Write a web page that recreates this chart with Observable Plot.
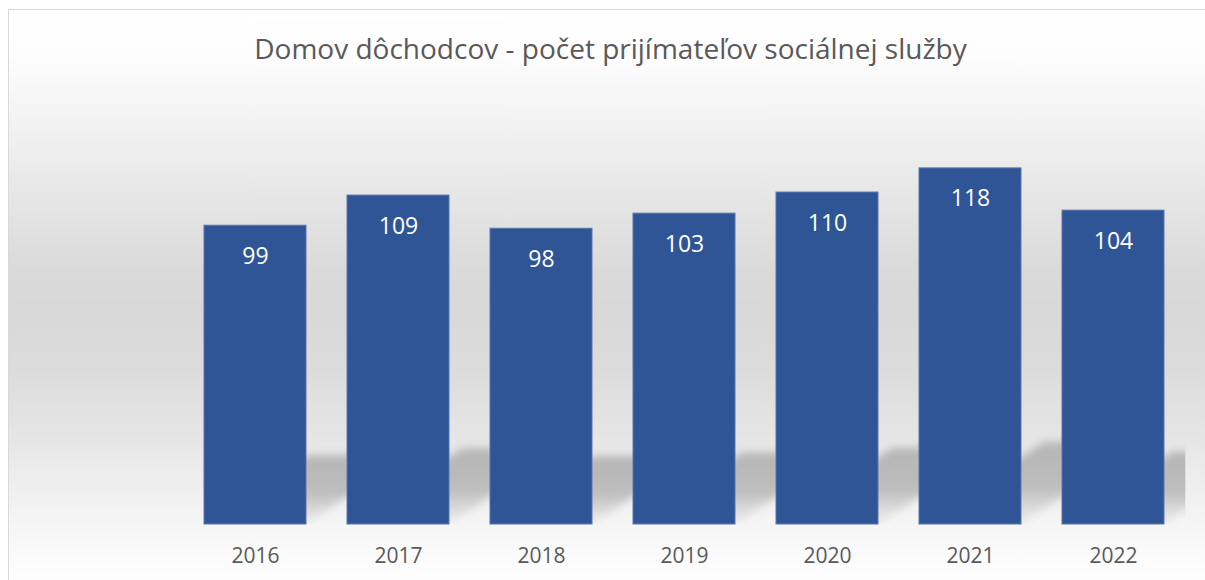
<!DOCTYPE html>
<html>
<head>
<meta charset="utf-8">
<script src="https://cdn.jsdelivr.net/npm/d3@7"></script>
<script src="https://cdn.jsdelivr.net/npm/@observablehq/plot@0.6"></script>
<style>
  body { margin: 0; background: #ffffff; overflow: hidden; }
  #frame {
    position: absolute; left: 8px; top: 9px; width: 1220px; height: 600px;
    border: 1.5px solid #d9d9d9; box-sizing: border-box;
    background: linear-gradient(to bottom,
      #ffffff 0px, #fdfdfd 45px, #f1f1f1 120px, #e4e4e4 200px, #dadada 260px,
      #d8d8d8 300px, #dcdcdc 360px, #e6e6e6 430px, #f1f1f1 490px, #f9f9f9 535px,
      #fdfdfd 565px, #ffffff 600px);
  }
  #chart { position: absolute; left: 0; top: 0; }
  #title {
    position: absolute; left: 8px; width: 1205px; top: 34px;
    text-align: center; font-family: "Open Sans", sans-serif; font-size: 28px;
    line-height: 28px; color: #595959; white-space: nowrap;
  }
</style>
</head>
<body>
<div id="frame"></div>
<div id="chart"></div>
<div id="title">Domov dôchodcov - počet prijímateľov sociálnej služby</div>
<script>
const years = ["2016", "2017", "2018", "2019", "2020", "2021", "2022"];
const counts = [99, 109, 98, 103, 110, 118, 104];
const data = years.map((year, i) => ({year, count: counts[i]}));

const plot = Plot.plot({
  width: 1205,
  height: 580,
  marginTop: 101.5,
  marginBottom: 56,
  marginLeft: 182,
  marginRight: 19.7,
  style: {background: "transparent", fontFamily: "Open Sans, sans-serif", fontSize: "21px", color: "#595959", overflow: "visible"},
  x: {domain: years, paddingInner: 0.29, paddingOuter: 0.145, tickSize: 0, tickPadding: 24, label: null},
  y: {domain: [0, 140], axis: null},
  marks: [
    Plot.barY(data, {x: "year", y: "count", fill: "#b9b9b9", ariaLabel: "shadow"}),
    Plot.barY(data, {x: "year", y: "count", fill: "#2F5597", stroke: "#5876ad", strokeWidth: 1}),
    Plot.text(data, {x: "year", y: "count", text: d => String(d.count), fill: "#ffffff", fontSize: 23, lineAnchor: "bottom", dy: 38})
  ]
});
document.getElementById("chart").appendChild(plot);

// perspective shadow decoration derived from the bar mark and scales
(function () {
  const svg = d3.select(plot);
  const xs = plot.scale("x"), ys = plot.scale("y");
  const base = ys.range[0], yTop = ys.range[1];
  const x0 = xs.range[0], x1 = xs.range[1];
  let shadow = svg.select('g[aria-label="shadow"]');
  if (shadow.empty()) shadow = d3.select(svg.selectAll('g[aria-label="bar"]').nodes()[0]);
  const defs = svg.insert("defs", ":first-child");
  defs.append("filter").attr("id", "shadowBlur").attr("x", "-20%").attr("y", "-50%").attr("width", "140%").attr("height", "200%")
    .append("feGaussianBlur").attr("stdDeviation", 4);
  const grad = defs.append("linearGradient").attr("id", "shadowGrad")
    .attr("x1", 0).attr("y1", 0).attr("x2", 0).attr("y2", 1);
  grad.append("stop").attr("offset", "0%").attr("stop-color", "#b3b3b3").attr("stop-opacity", 0.95);
  grad.append("stop").attr("offset", "55%").attr("stop-color", "#b8b8b8").attr("stop-opacity", 0.9);
  grad.append("stop").attr("offset", "100%").attr("stop-color", "#c8c8c8").attr("stop-opacity", 0.15);
  defs.append("clipPath").attr("id", "plotClip").append("rect")
    .attr("x", x0).attr("y", yTop).attr("width", x1 - x0).attr("height", base - yTop);
  const node = shadow.node();
  node.setAttribute("fill", "url(#shadowGrad)");
  const outer = document.createElementNS("http://www.w3.org/2000/svg", "g");
  const mid = document.createElementNS("http://www.w3.org/2000/svg", "g");
  node.parentNode.insertBefore(outer, node);
  outer.appendChild(mid);
  mid.appendChild(node);
  outer.setAttribute("clip-path", "url(#plotClip)");
  mid.setAttribute("filter", "url(#shadowBlur)");
  const s = 0.35, k = 0.23;
  node.setAttribute("transform", `matrix(1,0,${-s},${k},${s * base},${base * (1 - k)})`);
})();
</script>
</body>
</html>
